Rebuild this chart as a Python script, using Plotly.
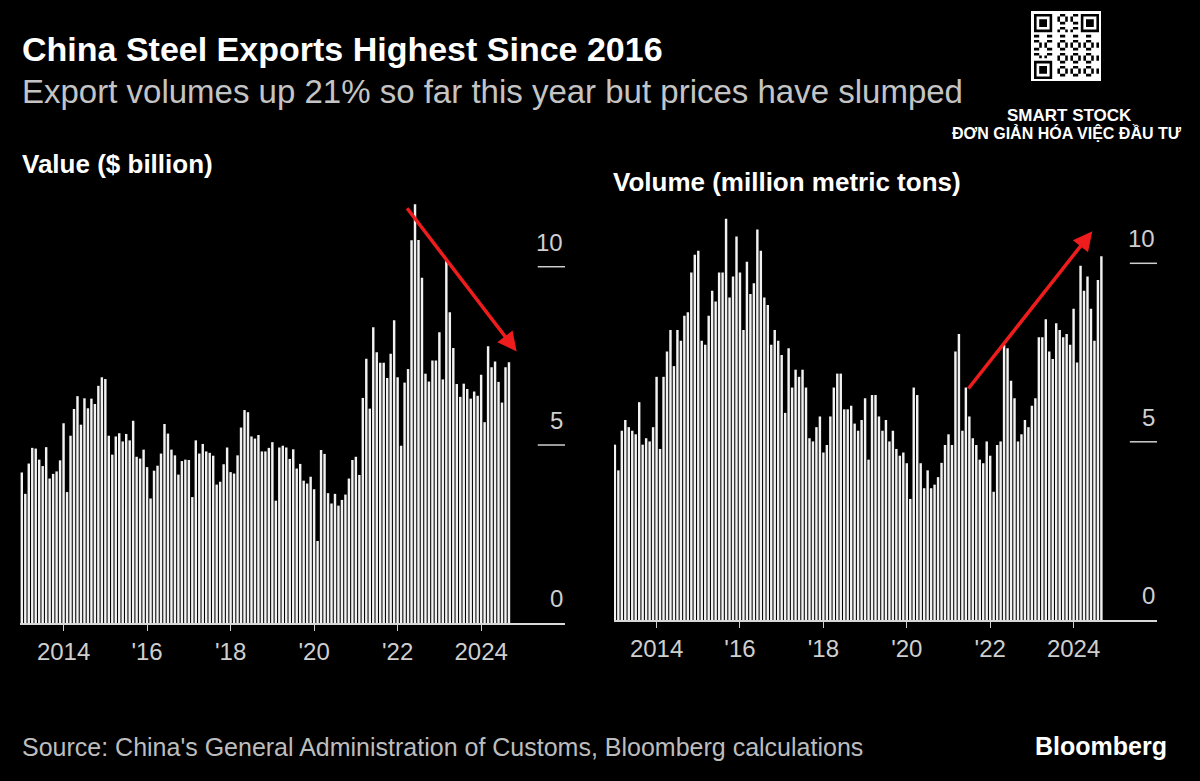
import plotly.graph_objects as go

# ---------------- data (monthly, Jan 2013 - Sep 2024) ----------------
value_bn = [
    4.23, 3.63, 4.48, 4.92, 4.90, 4.59, 4.41, 4.94, 4.06, 4.19, 4.26, 4.57,   # 2013
    5.61, 3.68, 5.26, 6.01, 6.37, 5.57, 6.31, 6.03, 6.30, 6.15, 6.66, 6.90,   # 2014
    6.85, 5.26, 4.73, 5.24, 5.33, 5.10, 5.31, 5.13, 5.68, 4.67, 4.62, 4.87,   # 2015
    4.38, 3.50, 4.28, 4.42, 4.76, 5.59, 5.32, 4.87, 4.71, 4.17, 4.55, 4.59,   # 2016
    4.58, 3.54, 5.13, 4.76, 5.03, 4.82, 4.78, 4.70, 3.89, 3.97, 4.46, 4.93,   # 2017
    4.24, 4.20, 4.71, 5.49, 5.98, 5.92, 5.24, 5.18, 5.28, 4.82, 4.82, 4.92,   # 2018
    5.08, 3.44, 4.93, 4.98, 4.93, 4.61, 4.88, 4.34, 4.47, 4.00, 3.92, 4.11,   # 2019
    3.76, 2.31, 4.86, 4.75, 3.65, 3.36, 3.63, 3.30, 3.46, 3.61, 4.06, 4.58,   # 2020
    4.67, 4.16, 6.32, 7.42, 6.02, 8.30, 7.60, 7.31, 7.31, 6.88, 7.56, 8.50,   # 2021
    6.90, 4.98, 6.75, 7.13, 10.74, 11.75, 10.75, 9.69, 7.00, 6.78, 7.37, 7.37,  # 2022
    8.16, 6.84, 10.16, 8.72, 7.72, 6.71, 6.35, 6.72, 6.57, 6.30, 6.50, 6.38,  # 2023
    6.97, 5.64, 7.77, 7.18, 7.34, 6.77, 6.19, 7.18, 7.32,                     # 2024
]
volume_mt = [
    4.92, 4.20, 5.31, 5.61, 5.41, 5.31, 5.21, 6.11, 4.92, 5.10, 5.01, 5.41,   # 2013
    6.82, 4.80, 6.82, 7.53, 8.13, 7.12, 8.13, 7.83, 8.53, 8.63, 9.74, 10.24,  # 2014
    10.35, 7.83, 7.72, 8.53, 9.23, 8.93, 9.74, 9.74, 11.25, 9.04, 9.63, 10.75,  # 2015
    9.74, 8.13, 10.04, 9.14, 9.44, 10.95, 10.35, 9.04, 8.83, 7.72, 8.13, 7.83,  # 2016
    7.43, 5.81, 7.62, 6.52, 7.02, 6.82, 7.02, 6.52, 5.10, 5.01, 5.41, 5.71,   # 2017
    4.70, 4.91, 5.71, 6.52, 6.91, 6.91, 5.91, 5.91, 6.01, 5.51, 5.31, 5.61,   # 2018
    6.22, 4.50, 6.31, 6.31, 5.71, 5.31, 5.61, 5.01, 5.31, 4.80, 4.61, 4.70,   # 2019
    4.40, 3.40, 6.52, 6.31, 4.40, 3.70, 4.20, 3.70, 3.80, 4.01, 4.41, 4.91,   # 2020
    5.21, 4.91, 7.53, 8.02, 5.31, 6.52, 5.71, 5.10, 4.91, 4.50, 4.40, 5.01,   # 2021
    4.61, 3.60, 4.91, 5.01, 7.72, 7.62, 6.71, 6.22, 5.01, 5.21, 5.61, 5.41,   # 2022
    6.01, 6.22, 7.93, 7.93, 8.43, 7.53, 7.32, 8.32, 8.13, 7.93, 8.02, 7.72,   # 2023
    8.73, 7.22, 9.93, 9.23, 9.63, 8.73, 7.83, 9.53, 10.20,                    # 2024
]
month_index = list(range(len(value_bn)))          # 0 = Jan 2013
tick_months = [12, 36, 60, 84, 108, 132]           # January of each labelled year
tick_labels = ["2014", "'16", "'18", "'20", "'22", "2024"]
y_ticks = [0, 5, 10]

FONT = "Liberation Sans, Arial, Helvetica, sans-serif"
GREY = "#cfcfcf"
W, H = 1200, 781

def px(x):
    return x / W

def py(y):
    return 1 - y / H

fig = go.Figure()
fig.add_trace(go.Bar(x=month_index, y=value_bn, xaxis="x", yaxis="y",
                     marker=dict(color="#f2f2f2", line=dict(width=0)),
                     hoverinfo="x+y"))
fig.add_trace(go.Bar(x=month_index, y=volume_mt, xaxis="x2", yaxis="y2",
                     marker=dict(color="#f2f2f2", line=dict(width=0)),
                     hoverinfo="x+y"))

xcommon = dict(tickmode="array", tickvals=tick_months, ticktext=tick_labels,
               ticks="outside", ticklen=6, tickwidth=1.2, tickcolor=GREY,
               showline=True, linecolor="#d8d8d8", linewidth=1.5,
               showgrid=False, zeroline=False,
               tickfont=dict(family=FONT, size=24, color=GREY))
ycommon = dict(range=[0, 12], showticklabels=False, showgrid=False,
               zeroline=False, showline=False, ticks="")

fig.update_layout(
    width=W, height=H,
    paper_bgcolor="black", plot_bgcolor="black",
    margin=dict(l=0, r=0, t=0, b=0),
    showlegend=False, bargap=0.3,
    xaxis=dict(domain=[px(20), px(565)], range=[-0.52, 156.1], anchor="y", **xcommon),
    yaxis=dict(domain=[py(623.3), py(195.4)], anchor="x", **ycommon),
    xaxis2=dict(domain=[px(614), px(1157)], range=[-0.25, 156.0], anchor="y2", **xcommon),
    yaxis2=dict(domain=[py(620.3), py(191.9)], anchor="x2", **ycommon),
)

annotations = []
shapes = []

# value labels on the right of each panel with short marker lines
for xa, ya in (("x", "y"), ("x2", "y2")):
    for v in y_ticks:
        annotations.append(dict(
            xref=f"{xa} domain", x=1, xanchor="right",
            yref=ya, y=v, yanchor="bottom", yshift=9,
            text=str(v), showarrow=False,
            font=dict(family=FONT, size=24, color=GREY)))
        if v != 0:
            shapes.append(dict(type="line", xref=f"{xa} domain", x0=0.95, x1=1.0,
                               yref=ya, y0=v, y1=v,
                               line=dict(color=GREY, width=1.5)))

# red trend arrows
annotations.append(dict(xref="x", yref="y", axref="x", ayref="y",
                        x=142.2, y=7.62, ax=110.4, ay=11.68, text="",
                        showarrow=True, arrowhead=2, arrowsize=1.1,
                        arrowwidth=3.5, arrowcolor="#ee1c1c", standoff=0))
annotations.append(dict(xref="x2", yref="y2", axref="x2", ayref="y2",
                        x=137.4, y=10.9, ax=101.4, ay=6.45, text="",
                        showarrow=True, arrowhead=2, arrowsize=1.1,
                        arrowwidth=3.5, arrowcolor="#ee1c1c", standoff=0))

def text(x, y, s, size, color, anchor="left", bold=False):
    annotations.append(dict(xref="paper", yref="paper", x=px(x), y=py(y),
                            xanchor=anchor, yanchor="middle", showarrow=False,
                            text=f"<b>{s}</b>" if bold else s,
                            font=dict(family=FONT, size=size, color=color)))

text(20, 49, "China Steel Exports Highest Since 2016", 34, "white", bold=True)
text(20, 92, "Export volumes up 21% so far this year but prices have slumped", 33, "#c4c4c4")
text(20, 164, "Value ($ billion)", 26, "white", bold=True)
text(611, 182, "Volume (million metric tons)", 26, "white", bold=True)
text(20, 747, "Source: China's General Administration of Customs, Bloomberg calculations", 25, "#bdbdbd")
text(1169, 746, "Bloomberg", 25, "white", anchor="right", bold=True)
text(1069, 115, "SMART STOCK", 17, "white", anchor="center", bold=True)
text(1067, 133, "ĐƠN GIẢN HÓA VIỆC ĐẦU TƯ", 16, "white", anchor="center", bold=True)

# decorative QR-style badge (watermark)
qx, qy, n, m = 1034.0, 14.0, 25, 2.6
shapes.append(dict(type="rect", xref="paper", yref="paper",
                   x0=px(1031), x1=px(1101), y0=py(81), y1=py(11),
                   fillcolor="white", line=dict(width=0), layer="above"))

def finder(r, c):
    return (r in (0, 6) or c in (0, 6)) or (2 <= r <= 4 and 2 <= c <= 4)

dark = []
for r in range(n):
    for c in range(n):
        if r < 7 and c < 7:
            d = finder(r, c)
        elif r < 7 and c >= n - 7:
            d = finder(r, c - (n - 7))
        elif r >= n - 7 and c < 7:
            d = finder(r - (n - 7), c)
        elif (r == 7 or c == 7 or r == n - 8 or c == n - 8) and (r < 8 or c < 8):
            d = False
        else:
            d = ((r * 7 + c * 11 + r * c) % 5) < 2
        if d:
            dark.append((r, c))

path = ""
for r, c in dark:
    x0, x1 = px(qx + c * m), px(qx + (c + 1) * m)
    y0, y1 = py(qy + r * m), py(qy + (r + 1) * m)
    path += f"M{x0:.5f},{y0:.5f}H{x1:.5f}V{y1:.5f}H{x0:.5f}Z"
shapes.append(dict(type="path", xref="paper", yref="paper", path=path,
                   fillcolor="black", line=dict(width=0), layer="above"))

fig.update_layout(annotations=annotations, shapes=shapes)
fig.write_html(
    "out.html",
    config={"displayModeBar": False},
    post_script="document.body.style.margin='0';document.body.style.background='black';",
)
